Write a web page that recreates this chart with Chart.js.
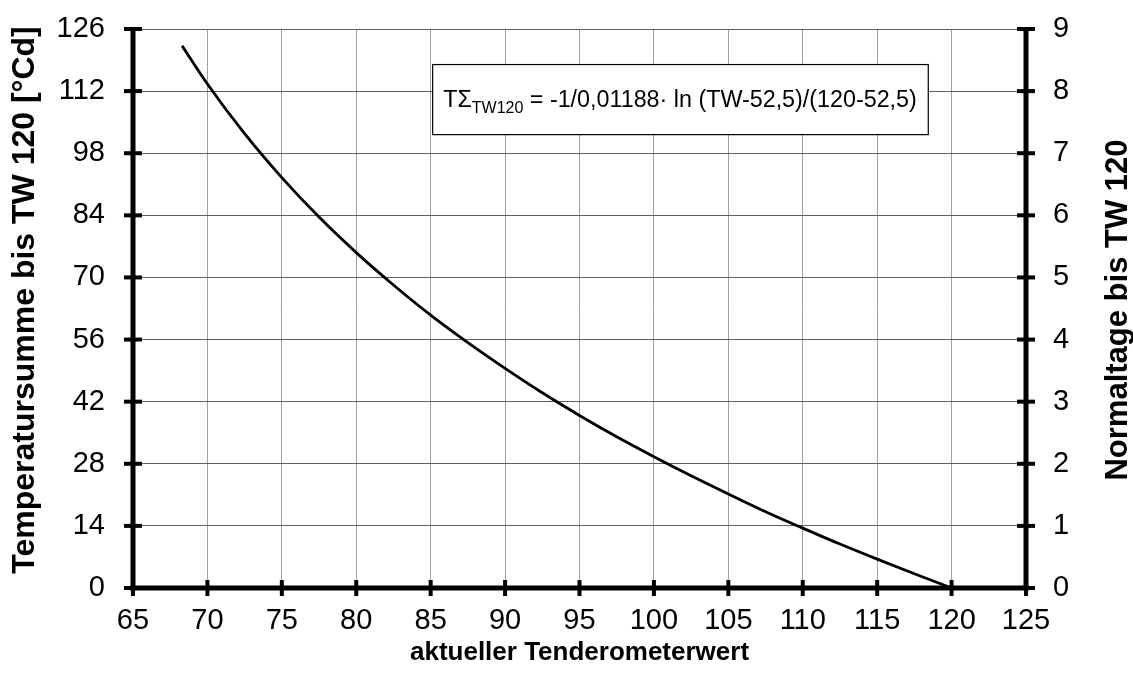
<!DOCTYPE html>
<html><head><meta charset="utf-8">
<script src="https://cdn.jsdelivr.net/npm/chart.js@4/dist/chart.umd.min.js"></script>
<style>html,body{margin:0;padding:0;background:#fff;overflow:hidden}#wrap{width:1133px;height:688px;position:relative}</style>
</head><body><div id="wrap"><canvas id="c" width="1133" height="688"></canvas></div>
<script>
// Data
const tenderometer = [68.3, 70, 72.5, 75, 77.5, 80, 82.5, 85, 87.5, 90, 92.5, 95, 97.5, 100, 102.5, 105, 107.5, 110, 112.5, 115, 117.5, 120];
const tempSum = [122.2, 113.6, 102.4, 92.5, 83.6, 75.6, 68.3, 61.5, 55.3, 49.5, 44.0, 38.9, 34.1, 29.6, 25.3, 21.2, 17.2, 13.5, 9.9, 6.5, 3.2, 0];
const xRange = [65, 125];
const xStep = 5;
const yLeftRange = [0, 126];
const yLeftStep = 14;
const yRightRange = [0, 9];
const yRightStep = 1;
const xTitle = 'aktueller Tenderometerwert';
const yLeftTitle = 'Temperatursumme bis TW 120 [°Cd]';
const yRightTitle = 'Normaltage bis TW 120';
const formulaMain = 'TΣ';
const formulaSub = 'TW120';
const formulaRest = ' = -1/0,01188· ln (TW-52,5)/(120-52,5)';

const FONT = "'Liberation Sans', Arial, sans-serif";

const framePlugin = {
  id: 'frame',
  afterDatasetsDraw(chart) {
    const {ctx, chartArea: a, scales} = chart;
    const x = scales.x, y = scales.y;
    const seg = (x1, y1, x2, y2) => { ctx.beginPath(); ctx.moveTo(x1, y1); ctx.lineTo(x2, y2); ctx.stroke(); };
    ctx.save();
    ctx.strokeStyle = '#000';
    ctx.lineCap = 'butt';
    ctx.lineWidth = 4;
    y.ticks.forEach(t => {
      const p = y.getPixelForValue(t.value);
      seg(a.left - 9, p, a.left + 9, p);
      seg(a.right - 9, p, a.right + 9, p);
    });
    x.ticks.forEach(t => {
      const p = x.getPixelForValue(t.value);
      seg(p, a.bottom - 8, p, a.bottom + 8);
    });
    ctx.lineWidth = 5;
    seg(a.left, a.top - 2, a.left, a.bottom + 2.5);
    seg(a.right, a.top - 2, a.right, a.bottom + 2.5);
    seg(a.left - 2.5, a.bottom, a.right + 2.5, a.bottom);

    // formula box
    const bx1 = x.getPixelForValue(85.1), bx2 = x.getPixelForValue(118.4);
    const by1 = y.getPixelForValue(118.1), by2 = y.getPixelForValue(102.3);
    ctx.fillStyle = '#fff';
    ctx.fillRect(bx1, by1, bx2 - bx1, by2 - by1);
    ctx.lineWidth = 1.2;
    ctx.strokeRect(bx1 + 0.5, by1 + 0.5, bx2 - bx1, by2 - by1);
    const mainFont = `23.3px ${FONT}`, subFont = `16px ${FONT}`;
    ctx.font = mainFont; const w1 = ctx.measureText(formulaMain).width; const w3 = ctx.measureText(formulaRest).width;
    ctx.font = subFont; const w2 = ctx.measureText(formulaSub).width;
    let tx = (bx1 + bx2) / 2 - (w1 + w2 + w3) / 2;
    const ty = (by1 + by2) / 2 + 8;
    ctx.fillStyle = '#000';
    ctx.textBaseline = 'alphabetic';
    ctx.textAlign = 'left';
    ctx.font = mainFont; ctx.fillText(formulaMain, tx, ty); tx += w1;
    ctx.font = subFont; ctx.fillText(formulaSub, tx, ty + 6); tx += w2;
    ctx.font = mainFont; ctx.fillText(formulaRest, tx, ty);

    // y axis titles (both read bottom to top)
    ctx.textAlign = 'center';
    ctx.textBaseline = 'middle';
    ctx.save();
    ctx.translate(25, 300);
    ctx.rotate(-Math.PI / 2);
    ctx.font = `bold 32px ${FONT}`;
    ctx.fillText(yLeftTitle, 0, 0);
    ctx.restore();
    ctx.save();
    ctx.translate(1118, 310);
    ctx.rotate(-Math.PI / 2);
    ctx.font = `bold 31px ${FONT}`;
    ctx.fillText(yRightTitle, 0, 0);
    ctx.restore();
    ctx.restore();
  }
};

const zeroPad = s => { s.paddingTop = 0; s.paddingBottom = 0; s.paddingLeft = 0; s.paddingRight = 0; };

new Chart(document.getElementById('c'), {
  type: 'line',
  data: {
    datasets: [{
      data: tenderometer.map((v, i) => ({x: v, y: tempSum[i]})),
      borderColor: '#000',
      borderWidth: 2.8,
      pointRadius: 0,
      fill: false,
      cubicInterpolationMode: 'monotone',
      yAxisID: 'y'
    }]
  },
  options: {
    responsive: false,
    animation: false,
    devicePixelRatio: 1,
    layout: {padding: {top: 29, left: 0, right: 0, bottom: 0}},
    plugins: {legend: {display: false}, tooltip: {enabled: false}},
    scales: {
      x: {
        type: 'linear', position: 'bottom',
        min: xRange[0], max: xRange[1],
        ticks: {stepSize: xStep, color: '#000', font: {family: FONT, size: 29}, padding: 16, maxRotation: 0},
        grid: {color: '#a0a0a0', lineWidth: 1, drawTicks: false},
        border: {display: false},
        title: {display: true, text: xTitle, color: '#000', font: {family: FONT, size: 26, weight: 'bold'}, padding: {top: 0, bottom: 20}},
        afterFit(s) { s.height = 100; zeroPad(s); }
      },
      y: {
        type: 'linear', position: 'left',
        min: yLeftRange[0], max: yLeftRange[1],
        ticks: {stepSize: yLeftStep, color: '#000', font: {family: FONT, size: 29}, padding: 28},
        grid: {color: '#606060', lineWidth: 1, drawTicks: false},
        border: {display: false},
        afterFit(s) { s.width = 133; zeroPad(s); }
      },
      y2: {
        type: 'linear', position: 'right',
        min: yRightRange[0], max: yRightRange[1],
        ticks: {stepSize: yRightStep, color: '#000', font: {family: FONT, size: 29}, padding: 27},
        grid: {display: false, drawTicks: false},
        border: {display: false},
        afterFit(s) { s.width = 107; zeroPad(s); }
      }
    }
  },
  plugins: [framePlugin]
});
</script></body></html>
